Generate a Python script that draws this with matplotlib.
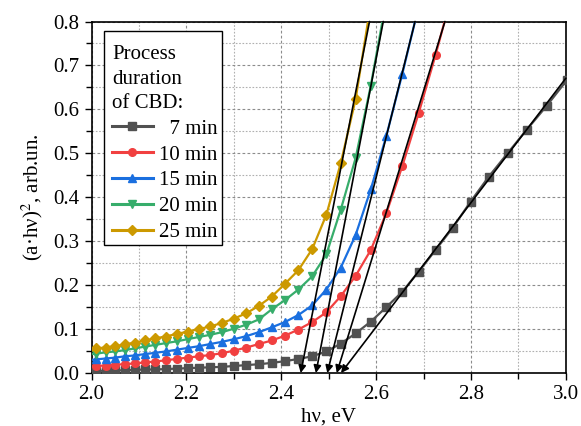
import matplotlib
matplotlib.use("Agg")
import matplotlib.pyplot as plt
from matplotlib.lines import Line2D
from matplotlib.patches import Rectangle
from matplotlib.ticker import MultipleLocator

plt.rcParams['font.family'] = ['Liberation Serif', 'DejaVu Serif']
plt.rcParams['mathtext.fontset'] = 'stix'

# photon energy grid (eV)
energy = [1.9904, 2.0097, 2.0295, 2.0496, 2.0701, 2.0911, 2.1124, 2.1343, 2.1565,
          2.1793, 2.2025, 2.2262, 2.2505, 2.2752, 2.3006, 2.3265, 2.3529, 2.3800,
          2.4078, 2.4361, 2.4652, 2.4950, 2.5255, 2.5567, 2.5887, 2.6216, 2.6552,
          2.6898, 2.7253, 2.7617, 2.7991, 2.8375, 2.8770, 2.9176, 2.9594, 3.0024]

y_7 = [0.004, 0.005, 0.005, 0.006, 0.006, 0.007, 0.008, 0.008, 0.009, 0.010,
       0.011, 0.012, 0.013, 0.014, 0.016, 0.018, 0.020, 0.023, 0.027, 0.032,
       0.038, 0.049, 0.067, 0.090, 0.117, 0.150, 0.185, 0.231, 0.280, 0.331,
       0.390, 0.447, 0.500, 0.554, 0.608, 0.667]
y_10 = [0.014, 0.016, 0.017, 0.019, 0.020, 0.022, 0.024, 0.026, 0.029, 0.032,
        0.035, 0.038, 0.041, 0.045, 0.051, 0.058, 0.066, 0.074, 0.085, 0.099,
        0.116, 0.138, 0.175, 0.221, 0.280, 0.364, 0.471, 0.592, 0.724, 0.870]
y_15 = [0.029, 0.031, 0.033, 0.035, 0.038, 0.040, 0.043, 0.046, 0.049, 0.053,
        0.057, 0.061, 0.066, 0.071, 0.077, 0.084, 0.093, 0.104, 0.116, 0.132,
        0.154, 0.190, 0.240, 0.314, 0.418, 0.540, 0.681, 0.835]
y_20 = [0.042, 0.044, 0.047, 0.049, 0.052, 0.056, 0.060, 0.064, 0.068, 0.072,
        0.077, 0.082, 0.087, 0.093, 0.101, 0.110, 0.122, 0.145, 0.166, 0.190,
        0.220, 0.270, 0.372, 0.489, 0.654, 0.850]
y_25 = [0.053, 0.056, 0.058, 0.061, 0.065, 0.069, 0.074, 0.079, 0.083, 0.089,
        0.094, 0.100, 0.106, 0.114, 0.124, 0.136, 0.153, 0.174, 0.203, 0.234,
        0.282, 0.360, 0.478, 0.623, 0.840]

labels = ['  7 min', '10 min', '15 min', '20 min', '25 min']
colors = ['#515151', '#F14040', '#1A6FDF', '#37AD6B', '#CC9900']
markers = ['s', 'o', '^', 'v', 'D']
series = [y_7, y_10, y_15, y_20, y_25]

# linear-fit (tangent) lines: intercept on x axis and upper end point
fit_x0 = [2.526, 2.517, 2.497, 2.473, 2.441]
fit_x1 = [3.000, 2.745, 2.682, 2.615, 2.586]
fit_y1 = [0.671, 0.800, 0.800, 0.800, 0.800]

fig = plt.figure(figsize=(5.81, 4.26), dpi=100)
ax = fig.add_axes([0.1575, 0.1244, 0.8165, 0.8251])

handles = []
for ys, lab, c, m in zip(series, labels, colors, markers):
    ms = 5.5 if m != 'D' else 4.8
    ax.plot(energy[:len(ys)], ys, color=c, marker=m, markersize=ms, lw=1.6,
            zorder=3)
    handles.append(Line2D([], [], color=c, marker=m, markersize=ms, lw=2.2))

for x0, x1, y1 in zip(fit_x0, fit_x1, fit_y1):
    ax.annotate('', xy=(x0, 0.0), xytext=(x1, y1),
                arrowprops=dict(arrowstyle='-|>', color='black', lw=1.2,
                                mutation_scale=11, shrinkA=0, shrinkB=0),
                zorder=4, annotation_clip=False)

ax.set_xlim(2.0, 3.0)
ax.set_ylim(0.0, 0.8)
ax.xaxis.set_major_locator(MultipleLocator(0.2))
ax.xaxis.set_minor_locator(MultipleLocator(0.1))
ax.yaxis.set_major_locator(MultipleLocator(0.1))
ax.yaxis.set_minor_locator(MultipleLocator(0.05))
ax.xaxis.set_major_formatter(plt.FormatStrFormatter('%.1f'))
ax.yaxis.set_major_formatter(plt.FormatStrFormatter('%.1f'))

ax.grid(which='major', color='#8c8c8c', linestyle=(0, (2.5, 2)), lw=0.8)
ax.grid(which='minor', color='#b0b0b0', linestyle=(0, (1.5, 1.5)), lw=0.8)
ax.set_axisbelow(True)

ax.tick_params(which='both', direction='out', top=False, right=False,
               labelsize=15, width=1.0)
ax.tick_params(which='major', length=5)
ax.tick_params(which='minor', length=4)
for s in ax.spines.values():
    s.set_linewidth(1.2)

ax.set_xlabel('hν, eV', fontsize=15, labelpad=3)
ax.set_ylabel('(a·hν)$^2$, arb.un.', fontsize=15, labelpad=6)

# legend frame drawn separately so the padding matches the original
frame = Rectangle((0.0263, 0.364), 0.2487, 0.609, transform=ax.transAxes,
                  facecolor='white', edgecolor='black', lw=1.0, zorder=5)
ax.add_patch(frame)

leg = ax.legend(handles, labels, title='Process\nduration\nof CBD:',
                loc='upper left', bbox_to_anchor=(0.026, 0.956),
                fontsize=15, title_fontsize=15, frameon=False,
                handlelength=1.95, handletextpad=0.3,
                labelspacing=0.3, borderpad=0.4, alignment='left',
                borderaxespad=0)
leg.get_title().set_linespacing(1.38)
leg.set_zorder(6)

fig.savefig('out.png', dpi=100)
